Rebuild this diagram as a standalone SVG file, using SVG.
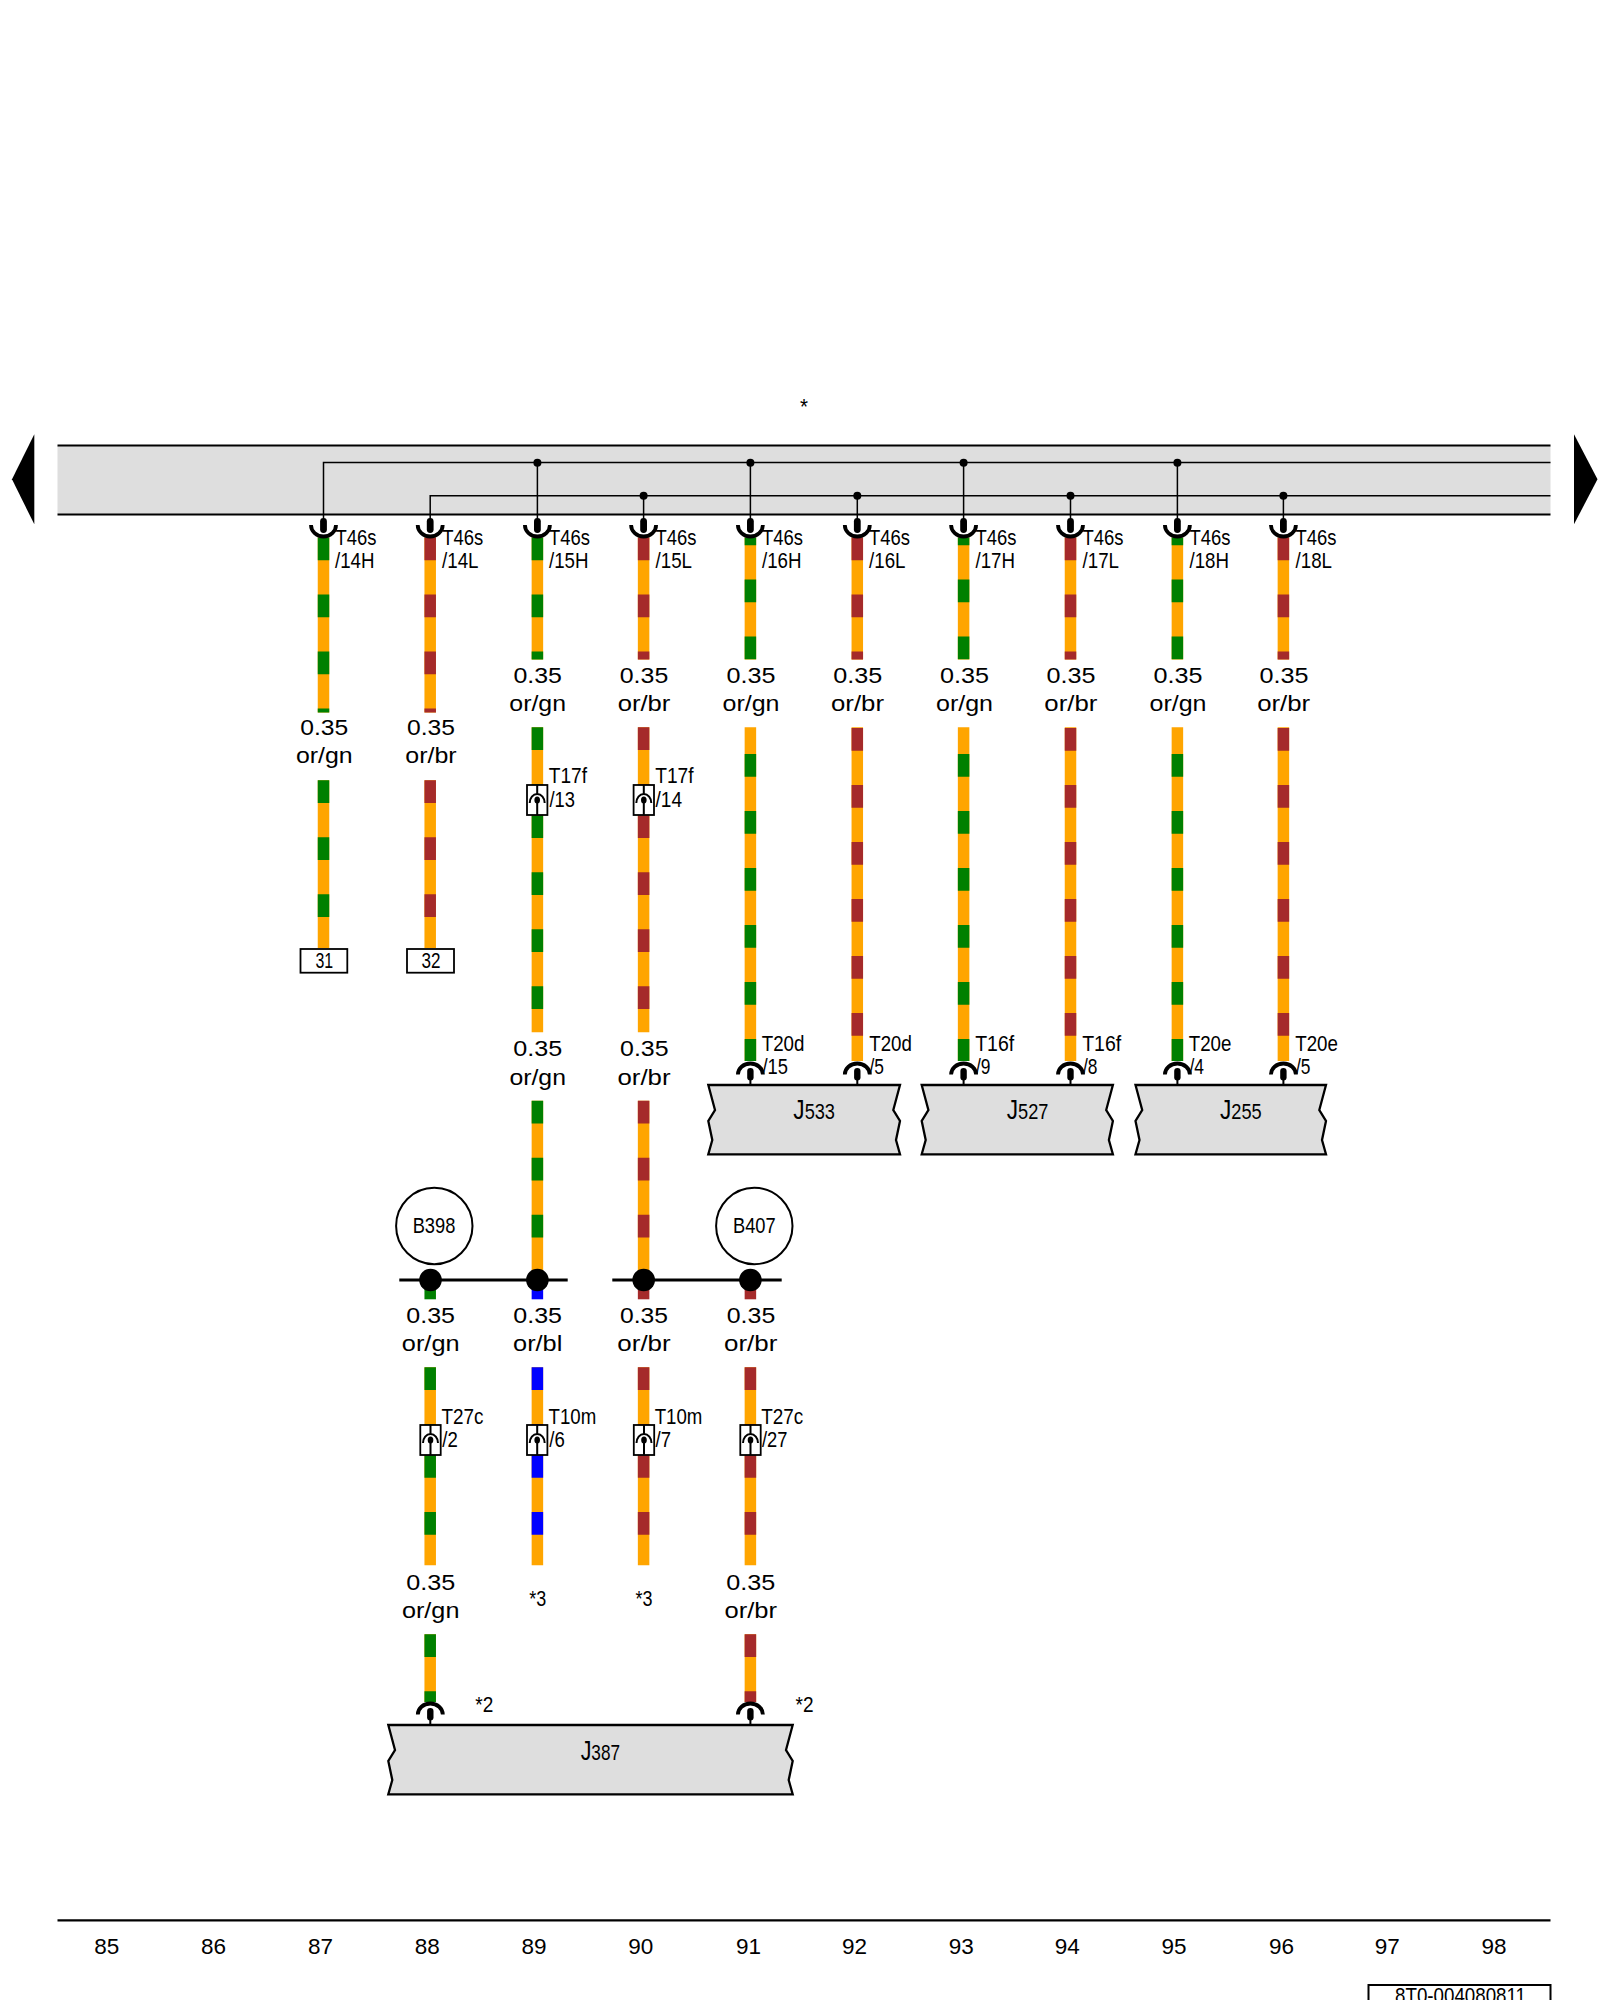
<svg xmlns="http://www.w3.org/2000/svg" xmlns:xlink="http://www.w3.org/1999/xlink" width="1600" height="2000" viewBox="0 0 1600 2000">
<style>
text{font-family:"Liberation Sans",Arial,sans-serif;font-size:22.5px;fill:#000}
.c{text-anchor:middle}
.n{font-size:22.5px}
.big{font-size:28px}
.w{stroke-width:11.5;fill:none}
.or{stroke:#ffa500}
.gn{stroke:#008000;stroke-dasharray:22.8 34.2}
.br{stroke:#a52a2a;stroke-dasharray:22.8 34.2}
.bl{stroke:#0000ff;stroke-dasharray:22.8 34.2}
.s{stroke-dasharray:none}
.bus{stroke:#000;stroke-width:1.5;fill:none}
.rule{stroke:#000;stroke-width:2.2;fill:none}
.dev{fill:#dedede;stroke:#000;stroke-width:2.3}
.arc{fill:none;stroke:#000;stroke-width:3.8}
.thin{fill:none;stroke:#000;stroke-width:2}
</style>
<defs>
<g id="sockTop"><path class="arc" d="M-12.5 0A12.5 11.5 0 0 0 12.5 0"/><rect x="-3.4" y="-7" width="6.8" height="15" rx="3.4" fill="#000"/></g>
<g id="sockDev"><path class="arc" d="M-12.5 11.8A12.5 11 0 0 1 12.5 11.8"/><rect x="-3.2" y="5.2" width="6.4" height="12.5" rx="3.2" fill="#000"/><path class="thin" d="M0 16V22.5"/></g>
<g id="inline"><rect x="-10.2" y="0" width="20.4" height="30" fill="#fff" stroke="#000" stroke-width="1.8"/><path class="thin" d="M-7.5 18A7.5 9 0 0 1 7.5 18M0 0V9M0 15V30"/><ellipse cx="0" cy="15" rx="2.8" ry="3.6" fill="#000"/></g>
</defs>

<g id="harness">
<rect x="57.5" y="446" width="1493" height="68" fill="#dedede"/>
<path class="rule" d="M57.5 445.5H1550.5M57.5 514.5H1550.5"/>
<polygon points="12,479.3 34.3,434.3 34.3,524.3" fill="#000"/>
<polygon points="1597.5,479.3 1574,434.3 1574,524.3" fill="#000"/>
<text x="804" y="414" class="c" textLength="8" lengthAdjust="spacingAndGlyphs">*</text>
</g>

<g id="connectors">
<path class="bus" d="M323.5 520V462.5H1550.5M537.4 462.5V520M750.4 462.5V520M963.6 462.5V520M1177.4 462.5V520"/>
<path class="bus" d="M430.2 520V495.7H1550.5M643.6 495.7V520M857.3 495.7V520M1070.5 495.7V520M1283.4 495.7V520"/>
<g fill="#000">
<circle cx="537.4" cy="462.7" r="4"/><circle cx="750.4" cy="462.7" r="4"/><circle cx="963.6" cy="462.7" r="4"/><circle cx="1177.4" cy="462.7" r="4"/>
<circle cx="643.6" cy="495.7" r="4"/><circle cx="857.3" cy="495.7" r="4"/><circle cx="1070.5" cy="495.7" r="4"/><circle cx="1283.4" cy="495.7" r="4"/>
</g>
<path class="w or" d="M323.5 537.5V712.5M323.5 780.3V948"/>
<path class="w gn" d="M323.5 537.5V712.5"/><path class="w gn" d="M323.5 780.3V948"/>
<path class="w or" d="M430.2 537.5V712.5M430.2 780.3V948"/>
<path class="w br" d="M430.2 537.5V712.5"/><path class="w br" d="M430.2 780.3V948"/>
<path class="w or" d="M537.4 537.5V659.5M537.4 727.3V1032.3M537.4 1100.7V1280"/>
<path class="w gn" d="M537.4 537.5V659.5"/><path class="w gn" d="M537.4 727.3V785"/><path class="w gn" d="M537.4 815.3V1032.3"/><path class="w gn" d="M537.4 1100.7V1280"/>
<path class="w or" d="M643.6 537.5V659.5M643.6 727.3V1032.3M643.6 1100.7V1280"/>
<path class="w br" d="M643.6 537.5V659.5"/><path class="w br" d="M643.6 727.3V785"/><path class="w br" d="M643.6 815.3V1032.3"/><path class="w br" d="M643.6 1100.7V1280"/>
<path class="w or" d="M750.4 537.5V659.5M750.4 727.3V1061M857.3 537.5V659.5M857.3 727.3V1061M963.6 537.5V659.5M963.6 727.3V1061M1070.5 537.5V659.5M1070.5 727.3V1061M1177.4 537.5V659.5M1177.4 727.3V1061M1283.4 537.5V659.5M1283.4 727.3V1061"/>
<path class="w gn" stroke-dashoffset="15" d="M750.4 537.5V659.5"/><path class="w gn" stroke-dashoffset="15" d="M963.6 537.5V659.5"/><path class="w gn" stroke-dashoffset="15" d="M1177.4 537.5V659.5"/>
<path class="w gn" d="M750.4 754V1061"/><path class="w gn" d="M963.6 754V1061"/><path class="w gn" d="M1177.4 754V1061"/>
<path class="w br" d="M857.3 537.5V659.5"/><path class="w br" d="M1070.5 537.5V659.5"/><path class="w br" d="M1283.4 537.5V659.5"/>
<path class="w br" d="M857.3 728V1061"/><path class="w br" d="M1070.5 728V1061"/><path class="w br" d="M1283.4 728V1061"/>
<path class="w gn s" d="M430.2 1280V1299.3"/><path class="w bl s" d="M537.4 1280V1299.3"/><path class="w br s" d="M643.6 1280V1299.3"/><path class="w br s" d="M750.4 1280V1299.3"/>
<path class="w or" d="M430.2 1367.3V1425M430.2 1455V1565.3M430.2 1634.3V1702M537.4 1367.3V1425M537.4 1455V1565.3M643.6 1367.3V1425M643.6 1455V1565.3M750.4 1367.3V1425M750.4 1455V1565.3M750.4 1634.3V1702"/>
<path class="w gn" d="M430.2 1367.3V1425"/><path class="w gn" d="M430.2 1455V1565.3"/><path class="w gn" d="M430.2 1634.3V1702"/>
<path class="w bl" d="M537.4 1367.3V1425"/><path class="w bl" d="M537.4 1455V1565.3"/>
<path class="w br" d="M643.6 1367.3V1425"/><path class="w br" d="M643.6 1455V1565.3"/>
<path class="w br" d="M750.4 1367.3V1425"/><path class="w br" d="M750.4 1455V1565.3"/><path class="w br" d="M750.4 1634.3V1702"/>
<path d="M399.3 1280H567.7M612.3 1280H781.7" stroke="#000" stroke-width="2.8" fill="none"/>
<g fill="#000"><circle cx="430.5" cy="1280" r="11.3"/><circle cx="537.4" cy="1280" r="11.3"/><circle cx="643.7" cy="1280" r="11.3"/><circle cx="750.4" cy="1280" r="11.3"/></g>
<use xlink:href="#sockTop" x="323.5" y="525"/><use xlink:href="#sockTop" x="430.2" y="525"/><use xlink:href="#sockTop" x="537.4" y="525"/><use xlink:href="#sockTop" x="643.6" y="525"/><use xlink:href="#sockTop" x="750.4" y="525"/><use xlink:href="#sockTop" x="857.3" y="525"/><use xlink:href="#sockTop" x="963.6" y="525"/><use xlink:href="#sockTop" x="1070.5" y="525"/><use xlink:href="#sockTop" x="1177.4" y="525"/><use xlink:href="#sockTop" x="1283.4" y="525"/>
<use xlink:href="#inline" x="537.2" y="785"/><use xlink:href="#inline" x="643.8" y="785"/>
<use xlink:href="#inline" x="430.5" y="1425"/><use xlink:href="#inline" x="537.2" y="1425"/><use xlink:href="#inline" x="644" y="1425"/><use xlink:href="#inline" x="750.5" y="1425"/>
<use xlink:href="#sockDev" x="750.4" y="1062.7"/><use xlink:href="#sockDev" x="857.3" y="1062.7"/><use xlink:href="#sockDev" x="963.6" y="1062.7"/><use xlink:href="#sockDev" x="1070.5" y="1062.7"/><use xlink:href="#sockDev" x="1177.4" y="1062.7"/><use xlink:href="#sockDev" x="1283.4" y="1062.7"/>
<use xlink:href="#sockDev" x="430.3" y="1702.7"/><use xlink:href="#sockDev" x="750.4" y="1702.7"/>
</g>

<g id="wire-labels">
<text x="335.5" y="545" textLength="41" lengthAdjust="spacingAndGlyphs">T46s</text><text x="335" y="568" textLength="39.5" lengthAdjust="spacingAndGlyphs">/14H</text>
<text x="442.2" y="545" textLength="41" lengthAdjust="spacingAndGlyphs">T46s</text><text x="442" y="568" textLength="36.5" lengthAdjust="spacingAndGlyphs">/14L</text>
<text x="549" y="545" textLength="41" lengthAdjust="spacingAndGlyphs">T46s</text><text x="549" y="568" textLength="39.5" lengthAdjust="spacingAndGlyphs">/15H</text>
<text x="655.5" y="545" textLength="41" lengthAdjust="spacingAndGlyphs">T46s</text><text x="655.5" y="568" textLength="36.5" lengthAdjust="spacingAndGlyphs">/15L</text>
<text x="762" y="545" textLength="41" lengthAdjust="spacingAndGlyphs">T46s</text><text x="762" y="568" textLength="39.5" lengthAdjust="spacingAndGlyphs">/16H</text>
<text x="869" y="545" textLength="41" lengthAdjust="spacingAndGlyphs">T46s</text><text x="869" y="568" textLength="36.5" lengthAdjust="spacingAndGlyphs">/16L</text>
<text x="975.5" y="545" textLength="41" lengthAdjust="spacingAndGlyphs">T46s</text><text x="975.5" y="568" textLength="39.5" lengthAdjust="spacingAndGlyphs">/17H</text>
<text x="1082.5" y="545" textLength="41" lengthAdjust="spacingAndGlyphs">T46s</text><text x="1082.5" y="568" textLength="36.5" lengthAdjust="spacingAndGlyphs">/17L</text>
<text x="1189.5" y="545" textLength="41" lengthAdjust="spacingAndGlyphs">T46s</text><text x="1189.5" y="568" textLength="39.5" lengthAdjust="spacingAndGlyphs">/18H</text>
<text x="1295.5" y="545" textLength="41" lengthAdjust="spacingAndGlyphs">T46s</text><text x="1295.5" y="568" textLength="36.5" lengthAdjust="spacingAndGlyphs">/18L</text>

<text x="324.3" y="735" class="c" textLength="48" lengthAdjust="spacingAndGlyphs">0.35</text><text x="324.3" y="763.3" class="c" textLength="56.7" lengthAdjust="spacingAndGlyphs">or/gn</text>
<text x="431" y="735" class="c" textLength="48" lengthAdjust="spacingAndGlyphs">0.35</text><text x="431" y="763.3" class="c" textLength="51.3" lengthAdjust="spacingAndGlyphs">or/br</text>
<text x="537.7" y="683" class="c" textLength="48.5" lengthAdjust="spacingAndGlyphs">0.35</text><text x="537.7" y="711" class="c" textLength="56.7" lengthAdjust="spacingAndGlyphs">or/gn</text>
<text x="644" y="683" class="c" textLength="48.5" lengthAdjust="spacingAndGlyphs">0.35</text><text x="644" y="711" class="c" textLength="52.7" lengthAdjust="spacingAndGlyphs">or/br</text>
<text x="751" y="683" class="c" textLength="49" lengthAdjust="spacingAndGlyphs">0.35</text><text x="751" y="711" class="c" textLength="57" lengthAdjust="spacingAndGlyphs">or/gn</text>
<text x="857.8" y="683" class="c" textLength="49" lengthAdjust="spacingAndGlyphs">0.35</text><text x="857.5" y="711" class="c" textLength="53" lengthAdjust="spacingAndGlyphs">or/br</text>
<text x="964.5" y="683" class="c" textLength="49" lengthAdjust="spacingAndGlyphs">0.35</text><text x="964.5" y="711" class="c" textLength="57" lengthAdjust="spacingAndGlyphs">or/gn</text>
<text x="1071" y="683" class="c" textLength="49" lengthAdjust="spacingAndGlyphs">0.35</text><text x="1070.8" y="711" class="c" textLength="53" lengthAdjust="spacingAndGlyphs">or/br</text>
<text x="1178" y="683" class="c" textLength="49" lengthAdjust="spacingAndGlyphs">0.35</text><text x="1178" y="711" class="c" textLength="57" lengthAdjust="spacingAndGlyphs">or/gn</text>
<text x="1284" y="683" class="c" textLength="49" lengthAdjust="spacingAndGlyphs">0.35</text><text x="1283.7" y="711" class="c" textLength="53" lengthAdjust="spacingAndGlyphs">or/br</text>

<text x="548.7" y="783" textLength="38.3" lengthAdjust="spacingAndGlyphs">T17f</text><text x="549.5" y="806.5" textLength="25.5" lengthAdjust="spacingAndGlyphs">/13</text>
<text x="655.2" y="783" textLength="38.3" lengthAdjust="spacingAndGlyphs">T17f</text><text x="655.5" y="806.5" textLength="26.5" lengthAdjust="spacingAndGlyphs">/14</text>

<text x="537.7" y="1056" class="c" textLength="49" lengthAdjust="spacingAndGlyphs">0.35</text><text x="537.7" y="1084.5" class="c" textLength="56.5" lengthAdjust="spacingAndGlyphs">or/gn</text>
<text x="644.3" y="1056" class="c" textLength="48.5" lengthAdjust="spacingAndGlyphs">0.35</text><text x="644" y="1084.5" class="c" textLength="53" lengthAdjust="spacingAndGlyphs">or/br</text>

<text x="761.7" y="1050.5" textLength="42.7" lengthAdjust="spacingAndGlyphs">T20d</text><text x="762.5" y="1073.5" textLength="25.5" lengthAdjust="spacingAndGlyphs">/15</text>
<text x="869.2" y="1050.5" textLength="42.7" lengthAdjust="spacingAndGlyphs">T20d</text><text x="869.5" y="1073.5" textLength="14.5" lengthAdjust="spacingAndGlyphs">/5</text>
<text x="975.2" y="1050.5" textLength="39" lengthAdjust="spacingAndGlyphs">T16f</text><text x="976" y="1073.5" textLength="14.5" lengthAdjust="spacingAndGlyphs">/9</text>
<text x="1082.2" y="1050.5" textLength="39" lengthAdjust="spacingAndGlyphs">T16f</text><text x="1083" y="1073.5" textLength="14.5" lengthAdjust="spacingAndGlyphs">/8</text>
<text x="1188.7" y="1050.5" textLength="42.7" lengthAdjust="spacingAndGlyphs">T20e</text><text x="1189.5" y="1073.5" textLength="14.5" lengthAdjust="spacingAndGlyphs">/4</text>
<text x="1295.2" y="1050.5" textLength="42.7" lengthAdjust="spacingAndGlyphs">T20e</text><text x="1296" y="1073.5" textLength="14.5" lengthAdjust="spacingAndGlyphs">/5</text>

<text x="430.7" y="1323" class="c" textLength="48.7" lengthAdjust="spacingAndGlyphs">0.35</text><text x="430.7" y="1350.5" class="c" textLength="57.7" lengthAdjust="spacingAndGlyphs">or/gn</text>
<text x="537.7" y="1323" class="c" textLength="48.7" lengthAdjust="spacingAndGlyphs">0.35</text><text x="537.7" y="1350.5" class="c" textLength="49.3" lengthAdjust="spacingAndGlyphs">or/bl</text>
<text x="644" y="1323" class="c" textLength="48" lengthAdjust="spacingAndGlyphs">0.35</text><text x="644" y="1350.5" class="c" textLength="53.3" lengthAdjust="spacingAndGlyphs">or/br</text>
<text x="751" y="1323" class="c" textLength="48.5" lengthAdjust="spacingAndGlyphs">0.35</text><text x="750.7" y="1350.5" class="c" textLength="53.3" lengthAdjust="spacingAndGlyphs">or/br</text>

<text x="441.5" y="1423.7" textLength="42" lengthAdjust="spacingAndGlyphs">T27c</text><text x="442.3" y="1446.5" textLength="15.5" lengthAdjust="spacingAndGlyphs">/2</text>
<text x="548.5" y="1423.7" textLength="47.7" lengthAdjust="spacingAndGlyphs">T10m</text><text x="549.3" y="1446.5" textLength="15.5" lengthAdjust="spacingAndGlyphs">/6</text>
<text x="654.7" y="1423.7" textLength="47.7" lengthAdjust="spacingAndGlyphs">T10m</text><text x="655.5" y="1446.5" textLength="15.5" lengthAdjust="spacingAndGlyphs">/7</text>
<text x="761.2" y="1423.7" textLength="42" lengthAdjust="spacingAndGlyphs">T27c</text><text x="762" y="1446.5" textLength="25.5" lengthAdjust="spacingAndGlyphs">/27</text>

<text x="430.7" y="1590" class="c" textLength="49" lengthAdjust="spacingAndGlyphs">0.35</text><text x="430.7" y="1618.3" class="c" textLength="57.5" lengthAdjust="spacingAndGlyphs">or/gn</text>
<text x="750.7" y="1590" class="c" textLength="49" lengthAdjust="spacingAndGlyphs">0.35</text><text x="750.7" y="1618.3" class="c" textLength="52.5" lengthAdjust="spacingAndGlyphs">or/br</text>
<text x="537.7" y="1606.3" class="c" textLength="17" lengthAdjust="spacingAndGlyphs">*3</text>
<text x="644" y="1606.3" class="c" textLength="17" lengthAdjust="spacingAndGlyphs">*3</text>
<text x="475.3" y="1712.3" textLength="18" lengthAdjust="spacingAndGlyphs">*2</text>
<text x="795.5" y="1712.3" textLength="18" lengthAdjust="spacingAndGlyphs">*2</text>
</g>

<g id="T31"><rect x="300.5" y="949" width="46.8" height="23.7" fill="#fff" stroke="#000" stroke-width="1.8"/><text x="324.3" y="968" class="c" textLength="17.7" lengthAdjust="spacingAndGlyphs">31</text></g>
<g id="T32"><rect x="407" y="949" width="47" height="23.7" fill="#fff" stroke="#000" stroke-width="1.8"/><text x="431" y="968" class="c" textLength="19" lengthAdjust="spacingAndGlyphs">32</text></g>

<g id="B398"><circle cx="434.3" cy="1226" r="38.2" fill="#fff" stroke="#000" stroke-width="2"/><text x="434" y="1232.5" class="c" textLength="42.7" lengthAdjust="spacingAndGlyphs">B398</text></g>
<g id="B407"><circle cx="754.3" cy="1226" r="38.2" fill="#fff" stroke="#000" stroke-width="2"/><text x="754.3" y="1232.5" class="c" textLength="42.7" lengthAdjust="spacingAndGlyphs">B407</text></g>

<g id="J533"><path class="dev" d="M708.3 1085H900L893.3 1110L900 1121L896 1140L900 1154.3H708.3L712.3 1140L708.3 1121L715 1110Z"/><text x="793.3" y="1119" textLength="41.7" lengthAdjust="spacingAndGlyphs"><tspan class="big">J</tspan>533</text></g>
<g id="J527"><path class="dev" d="M921.7 1085H1112.9L1106.2 1110L1112.9 1121L1108.9 1140L1112.9 1154.3H921.7L925.7 1140L921.7 1121L928.4 1110Z"/><text x="1006.7" y="1119" textLength="41.7" lengthAdjust="spacingAndGlyphs"><tspan class="big">J</tspan>527</text></g>
<g id="J255"><path class="dev" d="M1135.5 1085H1326L1319.3 1110L1326 1121L1322 1140L1326 1154.3H1135.5L1139.5 1140L1135.5 1121L1142.2 1110Z"/><text x="1220" y="1119" textLength="41.7" lengthAdjust="spacingAndGlyphs"><tspan class="big">J</tspan>255</text></g>
<g id="J387"><path class="dev" d="M388.3 1725H792.7L786 1750L792.7 1761L788.7 1780L792.7 1794.3H388.3L392.3 1780L388.3 1761L395 1750Z"/><text x="580.7" y="1760" textLength="39.3" lengthAdjust="spacingAndGlyphs"><tspan class="big">J</tspan>387</text></g>

<g id="ruler">
<path class="rule" d="M57.5 1920.3H1550.5"/>
<text x="106.8" y="1954" class="c n">85</text><text x="213.6" y="1954" class="c n">86</text><text x="320.4" y="1954" class="c n">87</text><text x="427.2" y="1954" class="c n">88</text><text x="534" y="1954" class="c n">89</text><text x="640.8" y="1954" class="c n">90</text><text x="748.4" y="1954" class="c n">91</text><text x="854.4" y="1954" class="c n">92</text><text x="961.2" y="1954" class="c n">93</text><text x="1067.2" y="1954" class="c n">94</text><text x="1174" y="1954" class="c n">95</text><text x="1281.4" y="1954" class="c n">96</text><text x="1387.2" y="1954" class="c n">97</text><text x="1494" y="1954" class="c n">98</text>
</g>
<g id="drawing-number"><rect x="1368.5" y="1985" width="182" height="30" fill="#fff" stroke="#000" stroke-width="2"/><text x="1460.5" y="2002.5" class="c" textLength="131" lengthAdjust="spacingAndGlyphs">8T0-004080811</text></g>
</svg>
